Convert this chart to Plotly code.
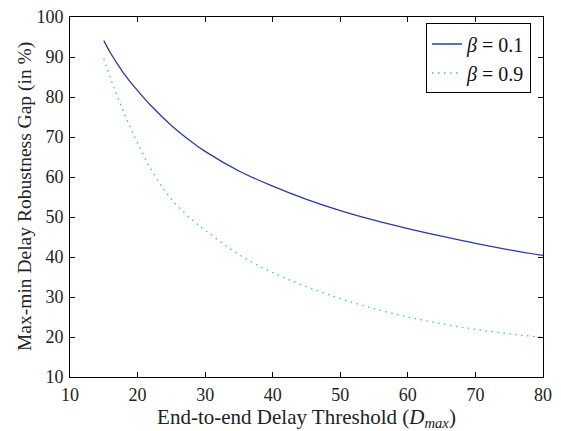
import plotly.graph_objects as go

x_b1 = [15, 16, 17, 18, 20, 22, 25, 28, 30, 35, 40, 45, 50, 55, 60, 65, 70, 75, 80]
y_b1 = [94.1, 91.0, 88.3, 85.8, 81.6, 77.8, 72.9, 68.8, 66.4, 61.5, 57.7, 54.4, 51.6, 49.2, 47.1, 45.2, 43.4, 41.8, 40.4]

x_b9 = [15, 16, 17, 18, 19, 20, 22, 24, 26, 28, 30, 35, 40, 45, 50, 55, 60, 65, 70, 75, 80]
y_b9 = [89.6, 84.7, 80.2, 76.0, 72.1, 68.5, 61.9, 56.6, 52.6, 49.4, 46.7, 40.6, 36.1, 32.6, 29.6, 27.1, 25.0, 23.3, 21.9, 20.8, 19.9]

x_ticks = [10, 20, 30, 40, 50, 60, 70, 80]
y_ticks = [10, 20, 30, 40, 50, 60, 70, 80, 90, 100]

serif = "Liberation Serif, DejaVu Serif, serif"

fig = go.Figure()
fig.add_trace(go.Scatter(x=x_b1, y=y_b1, mode="lines", name="<i>β</i> = 0.1",
                         line=dict(color="#2e3a9f", width=1.3, shape="spline")))
fig.add_trace(go.Scatter(x=x_b9, y=y_b9, mode="lines", name="<i>β</i> = 0.9",
                         line=dict(color="#3cc79f", width=1.3, dash="1.5px,4.5px", shape="spline")))

axis_common = dict(showline=True, linecolor="black", linewidth=1, mirror="ticks",
                   ticks="inside", ticklen=5, tickcolor="black", showgrid=False,
                   zeroline=False, automargin=False, ticklabeloverflow="allow",
                   tickfont=dict(family=serif, size=18, color="#222"))

# page body adds an 8px offset; the figure is sized to fill the rest of the window
fig.update_layout(
    width=553, height=423,
    margin=dict(l=62, r=18, t=9, b=54),
    paper_bgcolor="white", plot_bgcolor="white",
    showlegend=True,
    legend=dict(x=0.9746, y=0.982, xanchor="right", yanchor="top",
                bordercolor="black", borderwidth=1, bgcolor="white",
                font=dict(family=serif, size=20, color="#111")),
    xaxis=dict(range=[10, 80], tickvals=x_ticks, ticklabelstandoff=1,
               title=dict(text="End-to-end Delay Threshold (<i>D</i><sub><i>max</i></sub>)",
                          font=dict(family=serif, size=21, color="#222"), standoff=4),
               **axis_common),
    yaxis=dict(range=[10, 100], tickvals=y_ticks, ticklabelstandoff=2,
               **axis_common),
    annotations=[dict(text="Max-min Delay Robustness Gap (in %)", textangle=-90,
                      xref="paper", yref="paper", x=0, y=0.5, xanchor="center",
                      yanchor="middle", xshift=-45, showarrow=False,
                      font=dict(family=serif, size=19.5, color="#222"))],
)

fig.write_html("out.html")
